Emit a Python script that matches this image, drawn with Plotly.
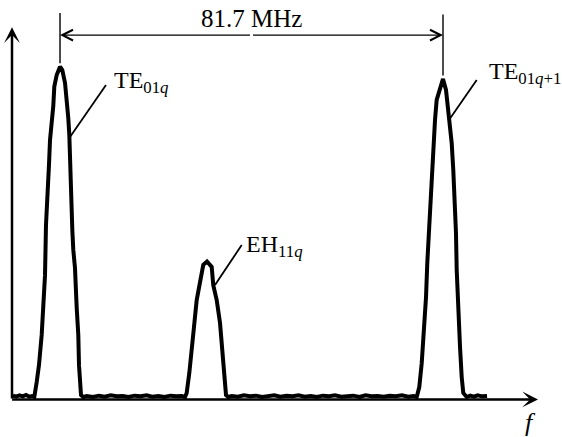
import plotly.graph_objects as go

# ---------------- data ----------------
# frequency in MHz (relative), amplitude in arbitrary units (0..100)
noise1_f = [0.2, 0.9, 1.6, 2.3, 3.0, 3.7, 4.3]
noise1_a = [0.4, 0.1, 0.5, 0.2, 0.6, 0.1, 0.3]

peak1_f = [4.77, 5.28, 5.77, 6.35, 6.69, 7.06, 7.27, 7.49, 7.76, 7.91, 8.13, 8.62, 8.83,
           9.05, 9.56, 10.27, 10.76, 11.34, 11.70, 12.04, 12.26, 12.40, 12.62, 12.77,
           12.90, 13.11, 13.47, 13.84, 14.18, 14.33, 14.54, 14.76, 15.25]
peak1_a = [0.0, 4.5, 9.6, 18.7, 27.7, 36.7, 51.8, 56.9, 63.0, 69.9, 77.4, 82.9, 87.7,
           93.5, 97.0, 99.5, 98.5, 94.6, 90.1, 84.0, 78.9, 69.9, 63.0, 56.9,
           50.3, 44.3, 38.9, 26.8, 18.7, 9.6, 2.7, 0.6, 0.0]

noise2_f = [16.0, 17.3, 18.6, 19.8, 21.1, 22.4, 23.7, 24.9, 26.2, 27.5, 28.8, 30.0,
            31.3, 32.6, 33.9, 35.1, 36.3]
noise2_a = [0.3, 0.0, 0.4, 0.1, 0.5, 0.2, 0.3, 0.0, 0.4, 0.2, 0.5, 0.1,
            0.3, 0.0, 0.4, 0.2, 0.3]

peak2_f = [37.00, 37.36, 37.92, 38.43, 38.93, 39.50, 40.21, 40.91, 41.71, 42.71,
           43.05, 43.78, 44.49, 45.06, 45.34, 45.77, 46.26]
peak2_a = [0.0, 1.2, 7.2, 13.3, 21.2, 29.2, 35.2, 39.8, 40.8, 39.2,
           33.7, 29.2, 22.3, 13.3, 7.2, 0.6, 0.0]

noise3_f = [47.0, 48.3, 49.6, 50.9, 52.2, 53.5, 54.8, 56.1, 57.4, 58.7, 60.0, 61.3,
            62.6, 63.9, 65.2, 66.5, 67.8, 69.1, 70.4, 71.7, 73.0, 74.3, 75.6, 76.9,
            78.2, 79.5, 80.8, 82.1, 83.4, 84.7, 85.9]
noise3_a = [0.3, 0.1, 0.5, 0.2, 0.4, 0.0, 0.3, 0.5, 0.1, 0.4, 0.2, 0.5,
            0.1, 0.3, 0.0, 0.4, 0.2, 0.5, 0.1, 0.3, 0.4, 0.0, 0.5, 0.2,
            0.3, 0.1, 0.4, 0.2, 0.5, 0.1, 0.3]

peak3_f = [86.56, 87.11, 87.63, 88.12, 88.55, 88.82, 89.19, 89.40, 89.76, 90.11,
           90.47, 90.83, 91.39, 92.18, 92.82, 93.31, 93.68, 94.04, 94.38, 94.75,
           94.96, 95.11, 95.45, 95.82, 96.18, 96.52, 97.25]
peak3_a = [0.0, 3.0, 10.2, 20.2, 30.1, 40.4, 50.3, 60.3, 68.4, 75.4,
           83.4, 89.5, 92.5, 95.8, 92.5, 86.4, 82.5, 76.5, 68.4, 58.4,
           49.4, 38.3, 25.3, 15.1, 6.0, 1.2, 0.0]

noise4_f = [98.0, 98.8, 99.6, 100.5, 101.3, 101.6]
noise4_a = [0.4, 0.1, 0.5, 0.2, 0.4, 0.3]

mode_labels = ["TE<sub>01<i>q</i></sub>", "EH<sub>11<i>q</i></sub>", "TE<sub>01<i>q</i>+1</sub>"]
spacing_label = "81.7 MHz"
axis_label = "<i>f</i>"

# ---------------- build figure ----------------
freq = noise1_f + peak1_f + noise2_f + peak2_f + noise3_f + peak3_f + noise4_f
amp = noise1_a + peak1_a + noise2_a + peak2_a + noise3_a + peak3_a + noise4_a

FONT = "Liberation Serif"
X0, X1 = -2.5665, 117.632
Y0, Y1 = -12.048, 119.578

fig = go.Figure()
fig.add_trace(go.Scatter(x=freq, y=amp, mode="lines",
                         line=dict(color="black", width=4),
                         hoverinfo="skip"))

def arrow(x, y, ax, ay, head, size, width):
    fig.add_annotation(x=x, y=y, ax=ax, ay=ay, xref="x", yref="y", axref="x", ayref="y",
                       text="", showarrow=True, arrowhead=head, arrowsize=size,
                       arrowwidth=width, arrowcolor="black", standoff=0)

# axes with arrows
arrow(0, 111.4, 0, -0.9, 3, 1.05, 2.5)
arrow(112.5, -0.75, -0.3, -0.75, 3, 1.05, 2.5)

# peak positions from data
i1 = peak1_a.index(max(peak1_a))
i3 = peak3_a.index(max(peak3_a))
f1, a1 = peak1_f[i1], peak1_a[i1]
f3, a3 = peak3_f[i3], peak3_a[i3]

# extension lines
fig.add_shape(type="line", x0=f1, x1=f1, y0=a1 + 1.0, y1=115.7,
              line=dict(color="black", width=1.4))
fig.add_shape(type="line", x0=f3, x1=f3, y0=a3 + 1.0, y1=115.2,
              line=dict(color="black", width=1.4))

# dimension line with arrows
fmid = (f1 + f3) / 2
arrow(f1, 109.0, fmid, 109.0, 5, 1.5, 1.4)
arrow(f3, 109.0, fmid, 109.0, 5, 1.5, 1.4)
fig.add_annotation(x=fmid, y=114.0, xref="x", yref="y", text=spacing_label,
                   showarrow=False, font=dict(family=FONT, size=25, color="black"))

# pointer lines for mode labels
pointers = [(12.40, 78.3, 20.10, 94.0), (43.42, 33.7, 49.13, 45.8), (93.68, 83.9, 99.39, 95.5)]
label_pos = [(21.4, 95.0), (49.6, 45.6), (101.6, 97.6)]
for (px0, py0, px1, py1), (lx, ly), lab in zip(pointers, label_pos, mode_labels):
    fig.add_shape(type="line", x0=px0, y0=py0, x1=px1, y1=py1,
                  line=dict(color="black", width=1.8))
    fig.add_annotation(x=lx, y=ly, xref="x", yref="y", text=lab, showarrow=False,
                       xanchor="left", yanchor="middle",
                       font=dict(family=FONT, size=24, color="black"))

fig.add_annotation(x=110.8, y=-7.8, xref="x", yref="y", text=axis_label, showarrow=False,
                   font=dict(family=FONT, size=26, color="black"))

fig.update_layout(width=562, height=437, margin=dict(l=0, r=0, t=0, b=0),
                  paper_bgcolor="white", plot_bgcolor="white", showlegend=False,
                  xaxis=dict(range=[X0, X1], visible=False, fixedrange=True),
                  yaxis=dict(range=[Y0, Y1], visible=False, fixedrange=True))

fig.write_html("out.html", config={"displayModeBar": False})
